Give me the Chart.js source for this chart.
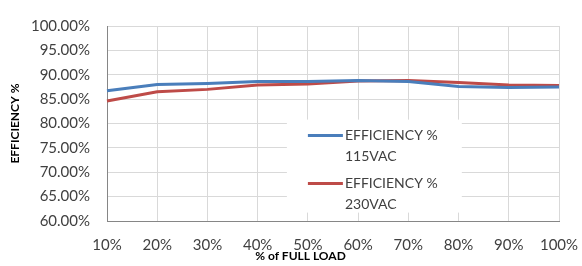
<!DOCTYPE html>
<html><head><meta charset="utf-8">
<script src="https://cdn.jsdelivr.net/npm/chart.js@4/dist/chart.umd.min.js"></script>
<style>html,body{margin:0;padding:0;background:#fff}#wrap{width:582px;height:266px}</style>
</head><body><div id="wrap"><canvas id="c" width="582" height="266"></canvas></div>
<script>
const loadLabels = ['10%','20%','30%','40%','50%','60%','70%','80%','90%','100%'];
const eff115 = [86.7, 88.0, 88.2, 88.6, 88.6, 88.8, 88.6, 87.6, 87.4, 87.5];
const eff230 = [84.6, 86.5, 87.0, 87.9, 88.1, 88.7, 88.8, 88.4, 87.9, 87.8];
const seriesNames = ['EFFICIENCY % 115VAC', 'EFFICIENCY % 230VAC'];
const xTitle = '% of FULL LOAD';
const yTitle = 'EFFICIENCY %';

const FONT = 'Lato, "Open Sans", sans-serif';
const TXT = '#404040';

const boxLegend = {
  id: 'boxLegend',
  afterDatasetsDraw(chart) {
    const a = chart.chartArea, ctx = chart.ctx;
    const w = a.right - a.left, h = a.bottom - a.top;
    const x0 = a.left + 0.398 * w, x1 = a.left + 0.785 * w;
    const y0 = a.top + 0.48 * h, y1 = a.top + 0.957 * h;
    ctx.save();
    ctx.fillStyle = '#fff';
    ctx.fillRect(x0, y0, x1 - x0, y1 - y0);
    ctx.font = '14px ' + FONT;
    ctx.textBaseline = 'middle';
    ctx.fillStyle = TXT;
    chart.data.datasets.forEach((ds, i) => {
      const yy = y0 + 16 + i * 48;
      ctx.strokeStyle = ds.borderColor;
      ctx.lineWidth = 3;
      ctx.beginPath();
      ctx.moveTo(x0 + 21, yy);
      ctx.lineTo(x0 + 56, yy);
      ctx.stroke();
      const idx = ds.label.lastIndexOf(' ');
      ctx.fillStyle = TXT;
      ctx.fillText(ds.label.slice(0, idx), x0 + 58, yy);
      ctx.fillText(ds.label.slice(idx + 1), x0 + 58, yy + 21);
    });
    ctx.restore();
  },
  afterDraw(chart) {
    const a = chart.chartArea, ctx = chart.ctx;
    ctx.save();
    ctx.font = 'bold 12px ' + FONT;
    ctx.fillStyle = '#000';
    ctx.textAlign = 'center';
    ctx.textBaseline = 'middle';
    ctx.fillText(xTitle, a.left + 0.428 * (a.right - a.left), 256);
    ctx.restore();
  }
};

new Chart(document.getElementById('c'), {
  type: 'line',
  data: {
    labels: loadLabels,
    datasets: [
      { label: seriesNames[0], data: eff115, borderColor: '#4A7EBB', backgroundColor: '#4A7EBB', borderWidth: 3, pointRadius: 0, tension: 0 },
      { label: seriesNames[1], data: eff230, borderColor: '#BE4B48', backgroundColor: '#BE4B48', borderWidth: 3, pointRadius: 0, tension: 0 }
    ]
  },
  options: {
    responsive: false,
    animation: false,
    layout: { padding: { top: 13, right: 23, left: 0, bottom: 0 } },
    plugins: { legend: { display: false }, tooltip: { enabled: false } },
    scales: {
      x: {
        offset: false,
        grid: { color: '#d9d9d9', drawTicks: false },
        border: { color: '#868686' },
        ticks: { color: TXT, font: { family: FONT, size: 15 }, padding: 15, maxRotation: 0, autoSkip: false },
        afterFit(s) { s.height = 45; s.paddingRight = 0; s.paddingLeft = 0; }
      },
      y: {
        min: 60, max: 100,
        grid: { color: '#d9d9d9', drawTicks: false },
        border: { color: '#868686' },
        ticks: { stepSize: 5, color: TXT, font: { family: FONT, size: 15 }, padding: 17, callback: v => v.toFixed(2) + '%' },
        title: { display: true, text: yTitle, color: '#000', font: { family: FONT, size: 12, weight: 'bold' }, padding: { top: 8, bottom: 0 } },
        afterFit(s) { s.width = 107; }
      }
    }
  },
  plugins: [boxLegend]
});
</script>
</body></html>
